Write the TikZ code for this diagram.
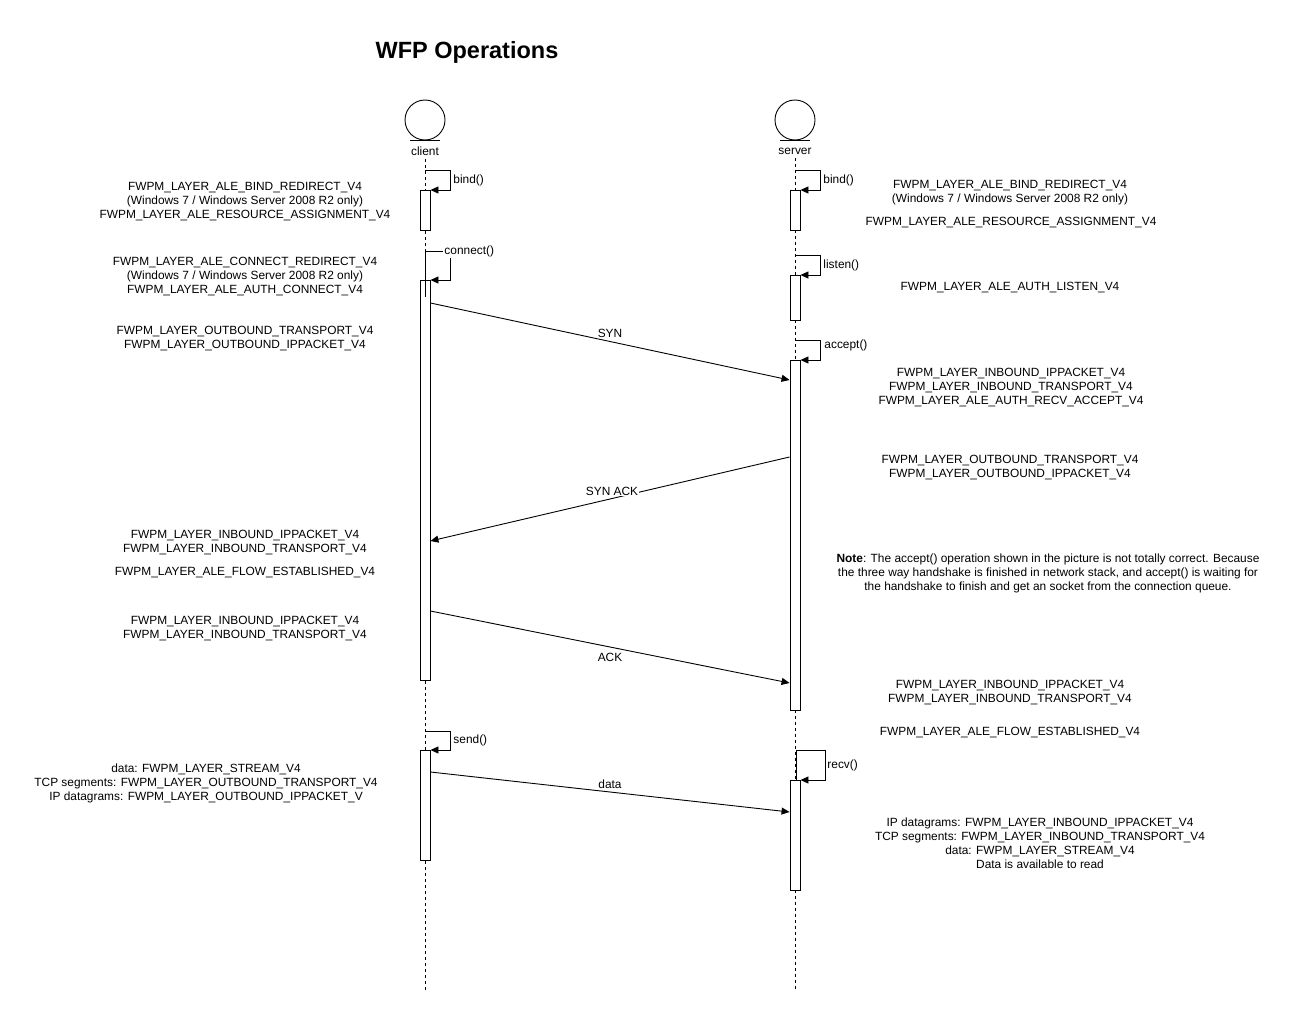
\documentclass[tikz,border=0pt]{standalone}
\usepackage{fontspec}
\setmainfont{Liberation Sans}
\usetikzlibrary{arrows.meta}

\begin{document}
\begin{tikzpicture}[x=1pt,y=-1pt,>={Triangle[length=8pt,width=7pt]},line width=0.9pt,
	font=\fontsize{11.9}{14}\selectfont,
	actor/.style={circle,draw,minimum size=40pt,inner sep=0pt},
	act/.style={draw,fill=white,minimum width=10pt,inner sep=0pt,anchor=north},
	msg/.style={->},
	life/.style={dash pattern=on 3pt off 3pt,line width=0.8pt},
	txt/.style={align=center,inner sep=0pt,yshift=-1.5pt},
	call/.style={anchor=west,inner sep=1pt,yshift=-1pt}]

	\useasboundingbox (0,0) rectangle (1291,1011);

	\node[font=\fontsize{23.5}{28}\selectfont\bfseries] (title) at (467,52) {WFP Operations};

	% lifelines
	\node[actor] (client) at (425,120) {};
	\node[actor] (server) at (795,120) {};
	\draw ([xshift=-15pt]client.south) -- ([xshift=15pt]client.south);
	\draw ([xshift=-15pt]server.south) -- ([xshift=15pt]server.south);
	\node (cname) at (425,151) {client};
	\node (sname) at (795,151) {server};
	\coordinate (cend) at (425,990);
	\coordinate (send) at (795,990);
	\draw[life] (cname.south) -- (cend);
	\draw[life] (sname.south) -- (send);

	% activations
	\node[act,minimum height=40pt] (ca1) at (425,190) {};
	\node[act,minimum height=400pt] (ca2) at (425,280) {};
	\node[act,minimum height=110pt] (ca3) at (425,750) {};
	\node[act,minimum height=40pt] (sa1) at (795,190) {};
	\node[act,minimum height=45pt] (sa2) at (795,275) {};
	\node[act,minimum height=350pt] (sa3) at (795,360) {};
	\node[act,minimum height=110pt] (sa4) at (795,780) {};

	% self calls
	\coordinate (cb) at (425,170);
	\coordinate (cc) at (425,251);
	\coordinate (cs) at (425,731);
	\coordinate (sb) at (795,170);
	\coordinate (sl) at (795,255);
	\coordinate (sc) at (795,340);
	\coordinate (sr) at (796,750);

	\draw[msg] (cb) -- ++(25,0) |- (ca1.north east);
	\node[call] (lcb) at (452,179) {bind()};
	\draw (cc) -- ([yshift=-17pt]ca2.north);
	\draw[msg] (cc) -- ++(25,0) |- (ca2.north east);
	\node[call,fill=white] (lcc) at (443,250) {connect()};
	\draw[msg] (cs) -- ++(25,0) |- (ca3.north east);
	\node[call] (lcs) at (452,739) {send()};

	\draw[msg] (sb) -- ++(25,0) |- (sa1.north east);
	\node[call] (lsb) at (822,179) {bind()};
	\draw[msg] (sl) -- ++(25,0) |- (sa2.north east);
	\node[call] (lsl) at (822,264) {listen()};
	\draw[msg] (sc) -- ++(25,0) |- (sa3.north east);
	\node[call] (lsc) at (823,344) {accept()};
	\draw[msg] ([xshift=1pt]sa4.north) -- (sr) -- ++(29,0) |- (sa4.north east);
	\node[call] (lsr) at (826,764) {recv()};

	% messages
	\draw[msg] ([yshift=-23pt]ca2.north east) -- ([yshift=-20pt]sa3.north west)
		node[midway,above=0pt] (syn) {SYN};
	\draw[msg] ([yshift=-97pt]sa3.north west) -- ([yshift=-261pt]ca2.north east);
	\node[fill=white,inner sep=1pt] (synack) at (612,491) {SYN ACK};
	\draw[msg] ([yshift=-331pt]ca2.north east) -- ([yshift=-323pt]sa3.north west)
		node[midway,below=2pt] (ack) {ACK};
	\draw[msg] ([yshift=-22pt]ca3.north east) -- ([yshift=-32pt]sa4.north west)
		node[midway,above=0pt] (data) {data};

	% client side filters
	\node[txt] (c1) at (245,200) {FWPM\_LAYER\_ALE\_BIND\_REDIRECT\_V4\\(Windows 7 / Windows Server 2008 R2 only)\\FWPM\_LAYER\_ALE\_RESOURCE\_ASSIGNMENT\_V4};
	\node[txt] (c2) at (245,275) {FWPM\_LAYER\_ALE\_CONNECT\_REDIRECT\_V4\\(Windows 7 / Windows Server 2008 R2 only)\\FWPM\_LAYER\_ALE\_AUTH\_CONNECT\_V4};
	\node[txt] (c3) at (245,337) {FWPM\_LAYER\_OUTBOUND\_TRANSPORT\_V4\\FWPM\_LAYER\_OUTBOUND\_IPPACKET\_V4};
	\node[txt] (c4) at (245,541) {FWPM\_LAYER\_INBOUND\_IPPACKET\_V4\\FWPM\_LAYER\_INBOUND\_TRANSPORT\_V4};
	\node[txt] (c5) at (245,571) {FWPM\_LAYER\_ALE\_FLOW\_ESTABLISHED\_V4};
	\node[txt] (c6) at (245,627) {FWPM\_LAYER\_INBOUND\_IPPACKET\_V4\\FWPM\_LAYER\_INBOUND\_TRANSPORT\_V4};
	\node[txt] (c7) at (206,782) {data: FWPM\_LAYER\_STREAM\_V4\\TCP segments: FWPM\_LAYER\_OUTBOUND\_TRANSPORT\_V4\\IP datagrams: FWPM\_LAYER\_OUTBOUND\_IPPACKET\_V};

	% server side filters
	\node[txt] (s1) at (1010,191) {FWPM\_LAYER\_ALE\_BIND\_REDIRECT\_V4\\(Windows 7 / Windows Server 2008 R2 only)};
	\node[txt] (s2) at (1011,221) {FWPM\_LAYER\_ALE\_RESOURCE\_ASSIGNMENT\_V4};
	\node[txt] (s3) at (1010,286) {FWPM\_LAYER\_ALE\_AUTH\_LISTEN\_V4};
	\node[txt] (s4) at (1011,386) {FWPM\_LAYER\_INBOUND\_IPPACKET\_V4\\FWPM\_LAYER\_INBOUND\_TRANSPORT\_V4\\FWPM\_LAYER\_ALE\_AUTH\_RECV\_ACCEPT\_V4};
	\node[txt] (s5) at (1010,466) {FWPM\_LAYER\_OUTBOUND\_TRANSPORT\_V4\\FWPM\_LAYER\_OUTBOUND\_IPPACKET\_V4};
	\node[txt] (note) at (1048,572) {\textbf{Note}: The accept() operation shown in the picture is not totally correct. Because\\the three way handshake is finished in network stack, and accept() is waiting for\\the handshake to finish and get an socket from the connection queue.};
	\node[txt] (s6) at (1010,691) {FWPM\_LAYER\_INBOUND\_IPPACKET\_V4\\FWPM\_LAYER\_INBOUND\_TRANSPORT\_V4};
	\node[txt] (s7) at (1010,731) {FWPM\_LAYER\_ALE\_FLOW\_ESTABLISHED\_V4};
	\node[txt] (s8) at (1040,842) {IP datagrams: FWPM\_LAYER\_INBOUND\_IPPACKET\_V4\\TCP segments: FWPM\_LAYER\_INBOUND\_TRANSPORT\_V4\\data: FWPM\_LAYER\_STREAM\_V4\\Data is available to read};
\end{tikzpicture}
\end{document}
